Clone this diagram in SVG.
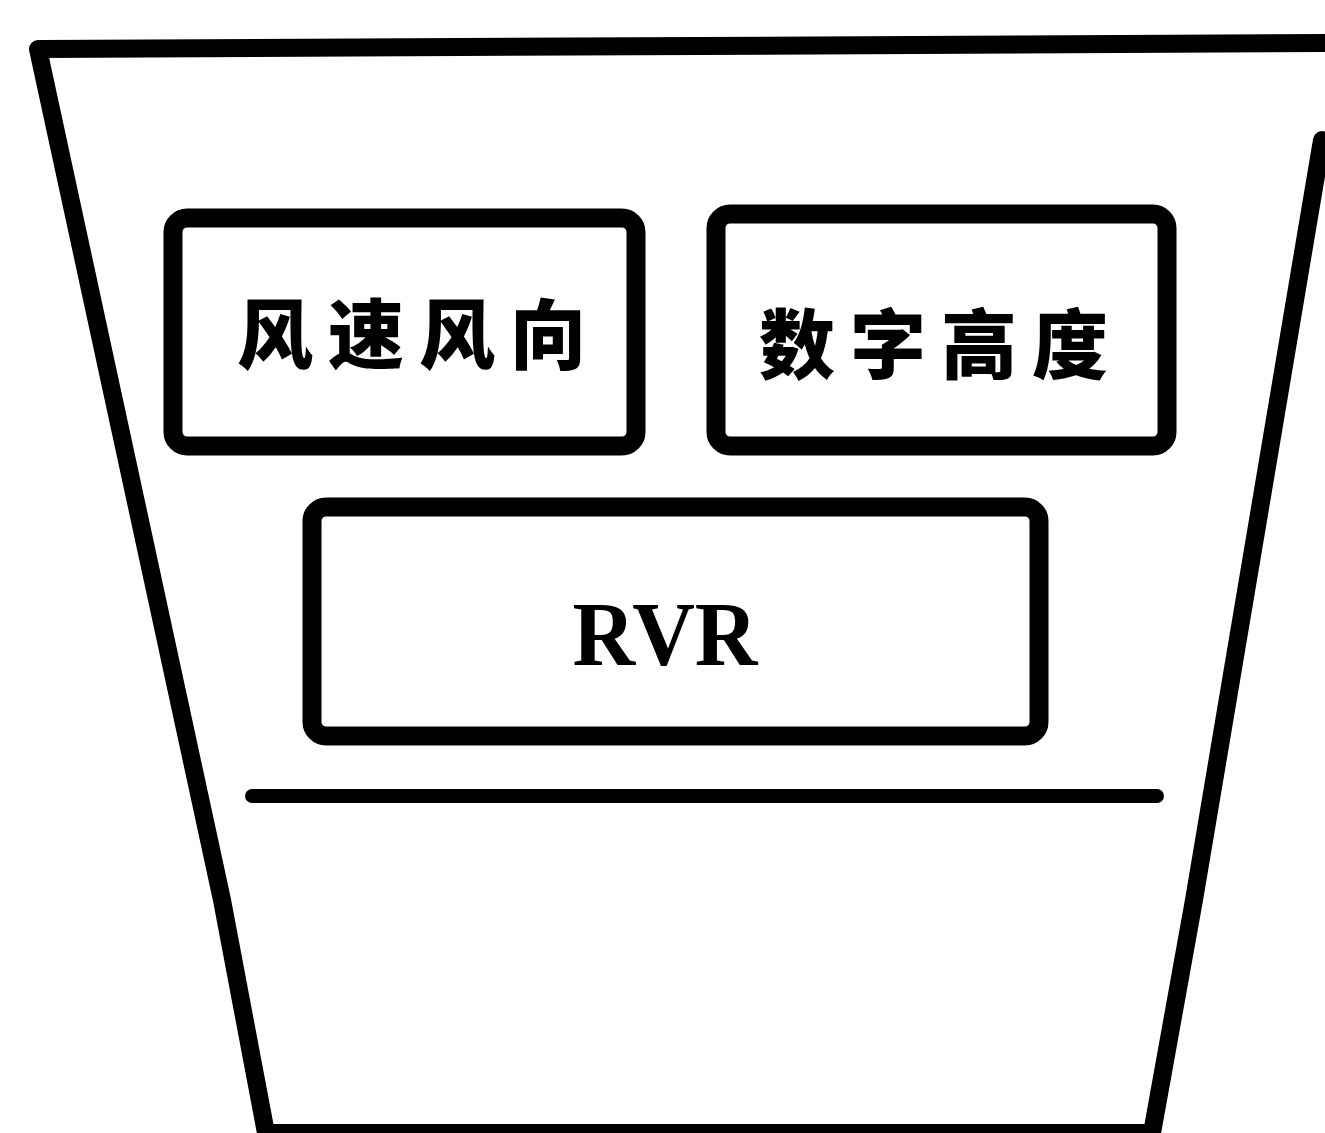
<svg xmlns="http://www.w3.org/2000/svg" width="1325" height="1133" viewBox="0 0 1325 1133">
<style>
.ln{fill:none;stroke:#000;stroke-width:18;stroke-linejoin:round;stroke-linecap:round}
.box{fill:none;stroke:#000;stroke-width:19}
.cjk{font-family:"Noto Sans CJK SC","Noto Sans",sans-serif;font-weight:900;font-size:76px;letter-spacing:15px;fill:#000;text-anchor:middle}
.lat{font-family:"Liberation Serif",serif;font-weight:bold;font-size:92px;fill:#000;text-anchor:middle}
</style>
<rect width="1325" height="1133" fill="#fff"/>
<g id="frame">
<polyline class="ln" points="1340,43 38,49 222,900 266,1133 1152,1133 1194,900 1322,140"/>
</g>
<g id="wind">
<rect class="box" x="173" y="218" width="463" height="228" rx="14"/>
<text class="cjk" x="419" y="363">风速风向</text>
</g>
<g id="height">
<rect class="box" x="716" y="214" width="451" height="232" rx="14"/>
<text class="cjk" x="941" y="373">数字高度</text>
</g>
<g id="rvr">
<rect class="box" x="312" y="507" width="727" height="229" rx="14"/>
<text class="lat" x="665" y="665" textLength="185" lengthAdjust="spacingAndGlyphs">RVR</text>
</g>
<g id="connectors">
<line x1="252" y1="796" x2="1157" y2="796" stroke="#000" stroke-width="14" stroke-linecap="round"/>
</g>
</svg>
